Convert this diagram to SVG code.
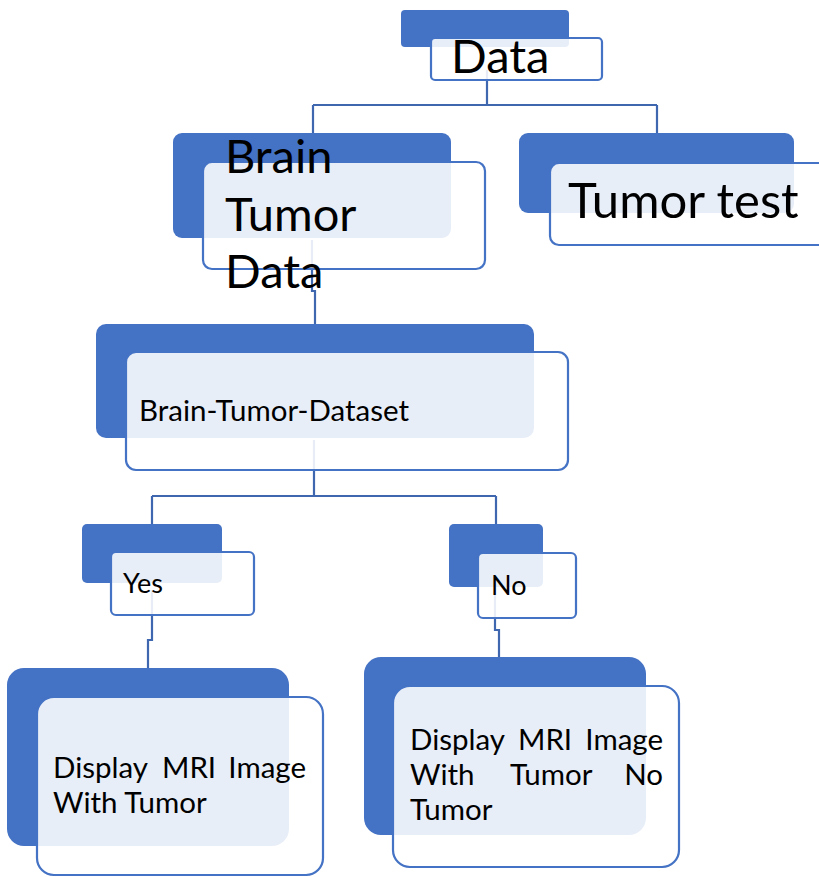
<svg xmlns="http://www.w3.org/2000/svg" width="819" height="877" viewBox="0 0 819 877">
<style>
.back{fill:#4472C4;}
.front{fill:#FFFFFF;fill-opacity:0.88;stroke:#4472C4;stroke-width:2.2;}
.conn{fill:none;stroke:#3F67B0;stroke-width:2.2;}
text{font-family:Lato,"Open Sans","Liberation Sans",sans-serif;fill:#000;}
.big{font-size:47px;}
.mid{font-size:29.5px;}
.sm{font-size:27px;}
</style>
<rect width="819" height="877" fill="#FFFFFF"/>
<g id="connectors">
<path class="conn" d="M487,70 V105 M313,105 H657 M313,105 V134 M657,105 V133"/>
<path class="conn" d="M312,240 V291 H315 V324"/>
<path class="conn" d="M314,440 V496 M152,496 H496 M152,496 V524 M496,496 V524"/>
<path class="conn" d="M152,590 V640 H148 V668"/>
<path class="conn" d="M495,590 V630 H499 V657"/>
</g>
<g id="node-data">
<rect class="back" x="401" y="10" width="168" height="37" rx="4"/>
<rect class="front" x="431" y="38" width="171" height="42" rx="4"/>
<text class="big" x="451" y="73">Data</text>
</g>
<g id="node-brain-tumor-data">
<rect class="back" x="173" y="133" width="278" height="105" rx="9"/>
<rect class="front" x="203" y="162" width="282" height="107" rx="9"/>
<text class="big" x="225" y="173">Brain</text>
<text class="big" x="225" y="231">Tumor</text>
<text class="big" x="225" y="288">Data</text>
</g>
<g id="node-tumor-test">
<rect class="back" x="519" y="133" width="275" height="80" rx="9"/>
<rect class="front" x="550" y="163" width="290" height="82" rx="9"/>
<text class="big" x="568" y="218" style="font-size:49px">Tumor test</text>
</g>
<g id="node-dataset">
<rect class="back" x="96" y="324" width="438" height="114" rx="10"/>
<rect class="front" x="126" y="352" width="442" height="118" rx="10"/>
<text class="mid" x="139" y="421">Brain-Tumor-Dataset</text>
</g>
<g id="node-yes">
<rect class="back" x="82" y="524" width="140" height="59" rx="5"/>
<rect class="front" x="111" y="552" width="143" height="63" rx="5"/>
<text class="sm" x="123" y="593">Yes</text>
</g>
<g id="node-no">
<rect class="back" x="449" y="524" width="94" height="63" rx="5"/>
<rect class="front" x="478" y="553" width="98" height="65" rx="5"/>
<text class="sm" x="491" y="595">No</text>
</g>
<g id="node-display-yes">
<rect class="back" x="7" y="668" width="282" height="178" rx="17"/>
<rect class="front" x="37" y="697" width="286" height="178" rx="17"/>
<text class="mid" x="53" y="778">Display</text>
<text class="mid" x="162" y="778">MRI</text>
<text class="mid" x="306" y="778" text-anchor="end">Image</text>
<text class="mid" x="53" y="813">With Tumor</text>
</g>
<g id="node-display-no">
<rect class="back" x="364" y="657" width="282" height="178" rx="17"/>
<rect class="front" x="393" y="686" width="286" height="181" rx="17"/>
<text class="mid" x="410" y="750">Display</text>
<text class="mid" x="518" y="750">MRI</text>
<text class="mid" x="663" y="750" text-anchor="end">Image</text>
<text class="mid" x="410" y="785">With</text>
<text class="mid" x="510" y="785">Tumor</text>
<text class="mid" x="663" y="785" text-anchor="end">No</text>
<text class="mid" x="410" y="820">Tumor</text>
</g>
</svg>
